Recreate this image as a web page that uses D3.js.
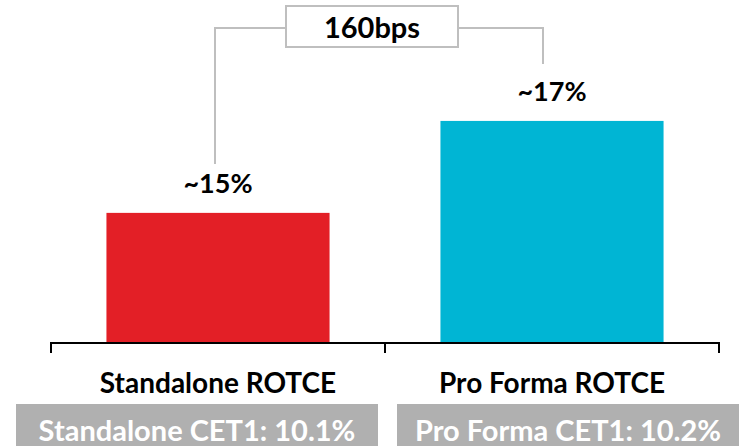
<!DOCTYPE html>
<html>
<head>
<meta charset="utf-8">
<script src="https://cdn.jsdelivr.net/npm/d3@7"></script>
<style>
  html, body { margin: 0; padding: 0; background: #fff; }
  svg { display: block; font-family: Lato, "Open Sans", sans-serif; }
</style>
</head>
<body>
<svg id="chart" width="739" height="446"></svg>
<script>
// ROTCE comparison data
const categories = ["Standalone ROTCE", "Pro Forma ROTCE"];
const rotceValues = [15, 17];
const valueLabels = ["~15%", "~17%"];
const barColors = ["#e31f26", "#00b5d4"];
const cet1Labels = ["Standalone CET1: 10.1%", "Pro Forma CET1: 10.2%"];
const deltaLabel = "160bps";

const svg = d3.select("#chart");
const W = 739, H = 446;

const axisY = 343;
const xOuter = d3.scaleBand().domain(categories).range([51, 719]).padding(0);
const x = d3.scaleBand().domain(categories).range([51, 719])
  .paddingInner(0.332).paddingOuter(0.166);

// truncated value axis so the bars show the relative change
const y = d3.scaleLinear().domain([12.17, 19.63]).range([axisY, 0]);

const data = categories.map((c, i) => ({
  cat: c, value: rotceValues[i], label: valueLabels[i], color: barColors[i]
}));

// bars
svg.append("g").selectAll("rect").data(data).join("rect")
  .attr("x", d => x(d.cat))
  .attr("width", x.bandwidth())
  .attr("y", d => y(d.value))
  .attr("height", d => axisY - y(d.value))
  .attr("fill", d => d.color);

// value labels
svg.append("g").selectAll("text").data(data).join("text")
  .attr("x", d => x(d.cat) + x.bandwidth() / 2)
  .attr("y", d => y(d.value) - 20)
  .attr("text-anchor", "middle")
  .attr("font-size", 27)
  .attr("font-weight", 700)
  .attr("fill", "#000")
  .text(d => d.label);

// category axis: baseline with ticks on the band boundaries
const axisG = svg.append("g").attr("stroke", "#000").attr("stroke-width", 2);
axisG.append("line")
  .attr("x1", xOuter.range()[0]).attr("x2", xOuter.range()[1])
  .attr("y1", axisY).attr("y2", axisY);
const tickXs = categories.map(c => xOuter(c)).concat([xOuter.range()[1]]);
axisG.selectAll("line.tick").data(tickXs).join("line")
  .attr("class", "tick")
  .attr("x1", d => d).attr("x2", d => d)
  .attr("y1", axisY - 1).attr("y2", axisY + 10);

svg.append("g").selectAll("text").data(categories).join("text")
  .attr("x", d => x(d) + x.bandwidth() / 2)
  .attr("y", 393)
  .attr("text-anchor", "middle")
  .attr("font-size", 28)
  .attr("font-weight", 700)
  .attr("fill", "#000")
  .text(d => d);

// CET1 footer boxes
const footer = [
  { x0: 16, x1: 378, text: cet1Labels[0] },
  { x0: 397, x1: W, text: cet1Labels[1] }
];
const fG = svg.append("g").selectAll("g").data(footer).join("g");
fG.append("rect")
  .attr("x", d => d.x0).attr("y", 404)
  .attr("width", d => d.x1 - d.x0).attr("height", H - 404)
  .attr("fill", "#b0b0b0");
fG.append("text")
  .attr("x", d => (d.x0 + d.x1) / 2)
  .attr("y", 441)
  .attr("text-anchor", "middle")
  .attr("font-size", 29)
  .attr("font-weight", 700)
  .attr("fill", "#fff")
  .text(d => d.text);

// bracket showing the ROTCE uplift
const bx0 = x(categories[0]) + x.bandwidth() / 2 - 3;
const bx1 = x(categories[1]) + x.bandwidth() / 2 - 9;
const by = 28;
const boxL = 286, boxR = 458, boxT = 6, boxB = 47;
const bracket = svg.append("g")
  .attr("fill", "none").attr("stroke", "#bfbfbf").attr("stroke-width", 2);
bracket.append("path")
  .attr("d", `M${bx0},${y(rotceValues[0]) - 49}V${by}H${boxL}`);
bracket.append("path")
  .attr("d", `M${boxR},${by}H${bx1}V${y(rotceValues[1]) - 57}`);
bracket.append("rect")
  .attr("x", boxL).attr("y", boxT)
  .attr("width", boxR - boxL).attr("height", boxB - boxT)
  .attr("fill", "#fff");
svg.append("text")
  .attr("x", (boxL + boxR) / 2)
  .attr("y", 38)
  .attr("text-anchor", "middle")
  .attr("font-size", 29)
  .attr("font-weight", 700)
  .attr("fill", "#000")
  .text(deltaLabel);
</script>
</body>
</html>
